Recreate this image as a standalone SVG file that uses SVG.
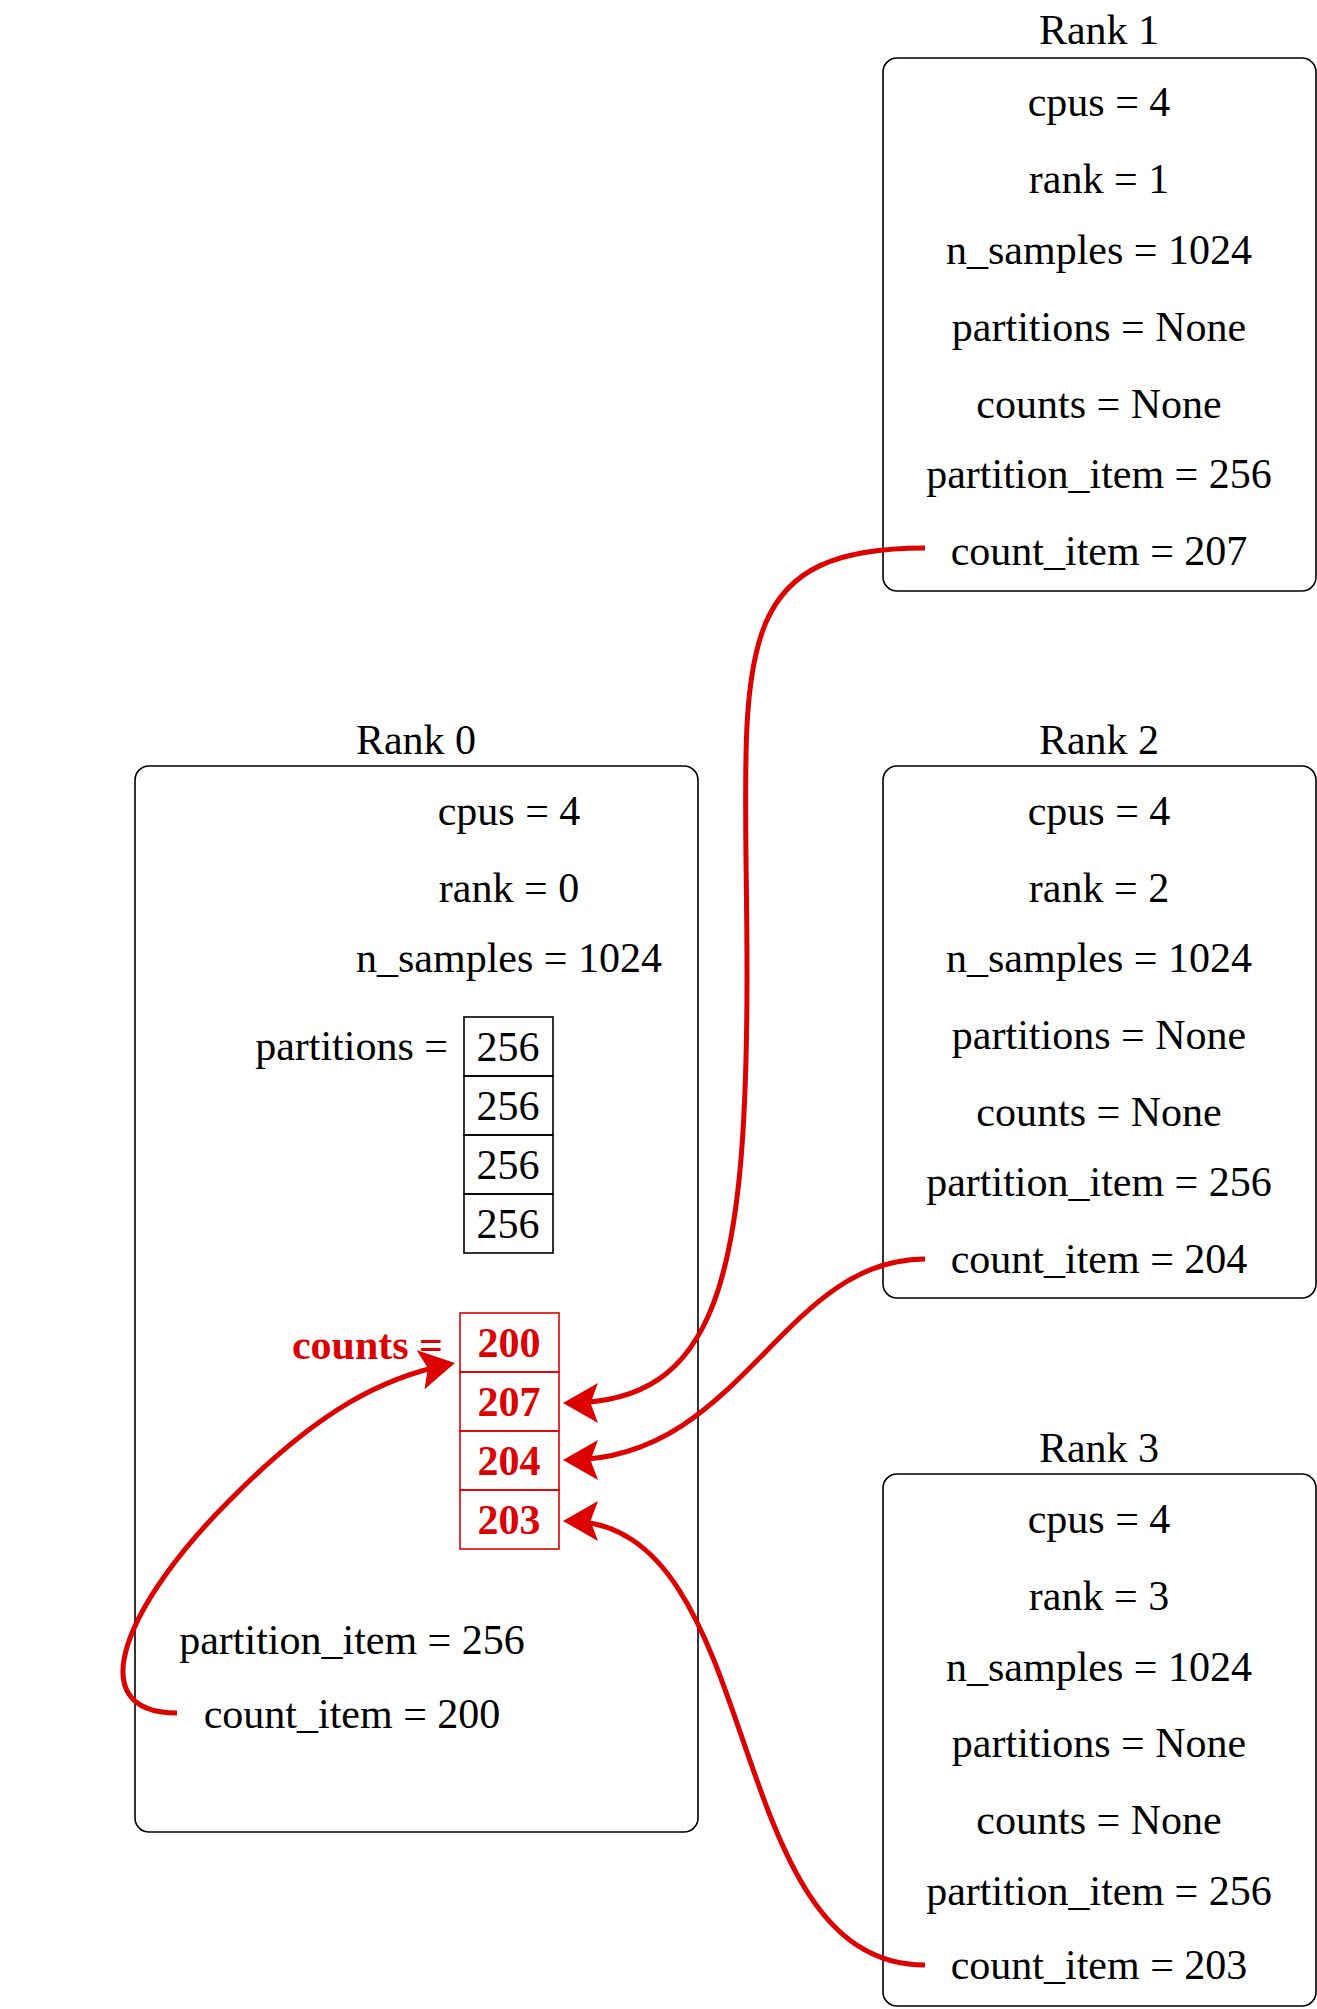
<svg xmlns="http://www.w3.org/2000/svg" width="1317" height="2009" viewBox="0 0 1317 2009">
<style>
text{font-family:"Liberation Serif","DejaVu Serif",serif;font-size:42px;fill:#000;dominant-baseline:central;text-anchor:middle}
.box{fill:none;stroke:#000;stroke-width:1.6}
.cell{fill:none;stroke:#000;stroke-width:1.6}
.rc{fill:none;stroke:#e00000;stroke-width:1.6}
.red{fill:#dd0000;font-weight:bold}
.conn{fill:none;stroke:#dd0000;stroke-width:5}
</style>
<defs><marker id="ah" markerWidth="8" markerHeight="8" refX="6" refY="4" orient="auto" markerUnits="strokeWidth"><path d="M0,0 L7,4 L0,8 L1.5,4 Z" fill="#dd0000"/></marker></defs>
<g id="rank1">
<text x="1099" y="30">Rank 1</text>
<rect class="box" x="883" y="58" width="433" height="533" rx="14"/>
<text x="1099" y="102">cpus = 4</text><text x="1099" y="179">rank = 1</text><text x="1099" y="250">n_samples = 1024</text><text x="1099" y="327">partitions = None</text><text x="1099" y="404">counts = None</text><text x="1099" y="474">partition_item = 256</text><text x="1099" y="551">count_item = 207</text>
</g>
<g id="rank2">
<text x="1099" y="740">Rank 2</text>
<rect class="box" x="883" y="766" width="433" height="532" rx="14"/>
<text x="1099" y="811">cpus = 4</text><text x="1099" y="888">rank = 2</text><text x="1099" y="958">n_samples = 1024</text><text x="1099" y="1035">partitions = None</text><text x="1099" y="1112">counts = None</text><text x="1099" y="1182">partition_item = 256</text><text x="1099" y="1259">count_item = 204</text>
</g>
<g id="rank3">
<text x="1099" y="1448">Rank 3</text>
<rect class="box" x="883" y="1474" width="433" height="532" rx="14"/>
<text x="1099" y="1519">cpus = 4</text><text x="1099" y="1596">rank = 3</text><text x="1099" y="1667">n_samples = 1024</text><text x="1099" y="1743">partitions = None</text><text x="1099" y="1820">counts = None</text><text x="1099" y="1891">partition_item = 256</text><text x="1099" y="1965">count_item = 203</text>
</g>
<g id="rank0">
<text x="416" y="740">Rank 0</text>
<rect class="box" x="135" y="766" width="563" height="1066" rx="14"/>
<text x="509" y="811">cpus = 4</text><text x="509" y="888">rank = 0</text><text x="509" y="958">n_samples = 1024</text>
<text x="448" y="1046" style="text-anchor:end">partitions =</text>
<rect class="cell" x="464" y="1017" width="89" height="59"/><rect class="cell" x="464" y="1076" width="89" height="59"/><rect class="cell" x="464" y="1135" width="89" height="59"/><rect class="cell" x="464" y="1194" width="89" height="59"/>
<text x="508" y="1047">256</text><text x="508" y="1106">256</text><text x="508" y="1165">256</text><text x="508" y="1224">256</text>
<text class="red" x="443" y="1345" style="text-anchor:end">counts =</text>
<rect class="rc" x="460" y="1313" width="99" height="59"/><rect class="rc" x="460" y="1372" width="99" height="59"/><rect class="rc" x="460" y="1431" width="99" height="59"/><rect class="rc" x="460" y="1490" width="99" height="59"/>
<text class="red" x="509" y="1343">200</text><text class="red" x="509" y="1402">207</text><text class="red" x="509" y="1461">204</text><text class="red" x="509" y="1520">203</text>
<text x="352" y="1640">partition_item = 256</text>
<text x="352" y="1714">count_item = 200</text>
</g>
<g id="connectors">
<path class="conn" marker-end="url(#ah)" d="M925 548 C717 548, 747 666, 747 974 C747 1281, 717 1403, 568 1403"/>
<path class="conn" marker-end="url(#ah)" d="M925 1259 C781 1259, 743 1460, 568 1460"/>
<path class="conn" marker-end="url(#ah)" d="M925 1965 C717 1965, 769 1521, 568 1521"/>
<path class="conn" marker-end="url(#ah)" d="M177 1713 C77 1713, 128 1601, 231 1499 C320 1409, 384 1377, 450 1364"/>
</g>
</svg>
